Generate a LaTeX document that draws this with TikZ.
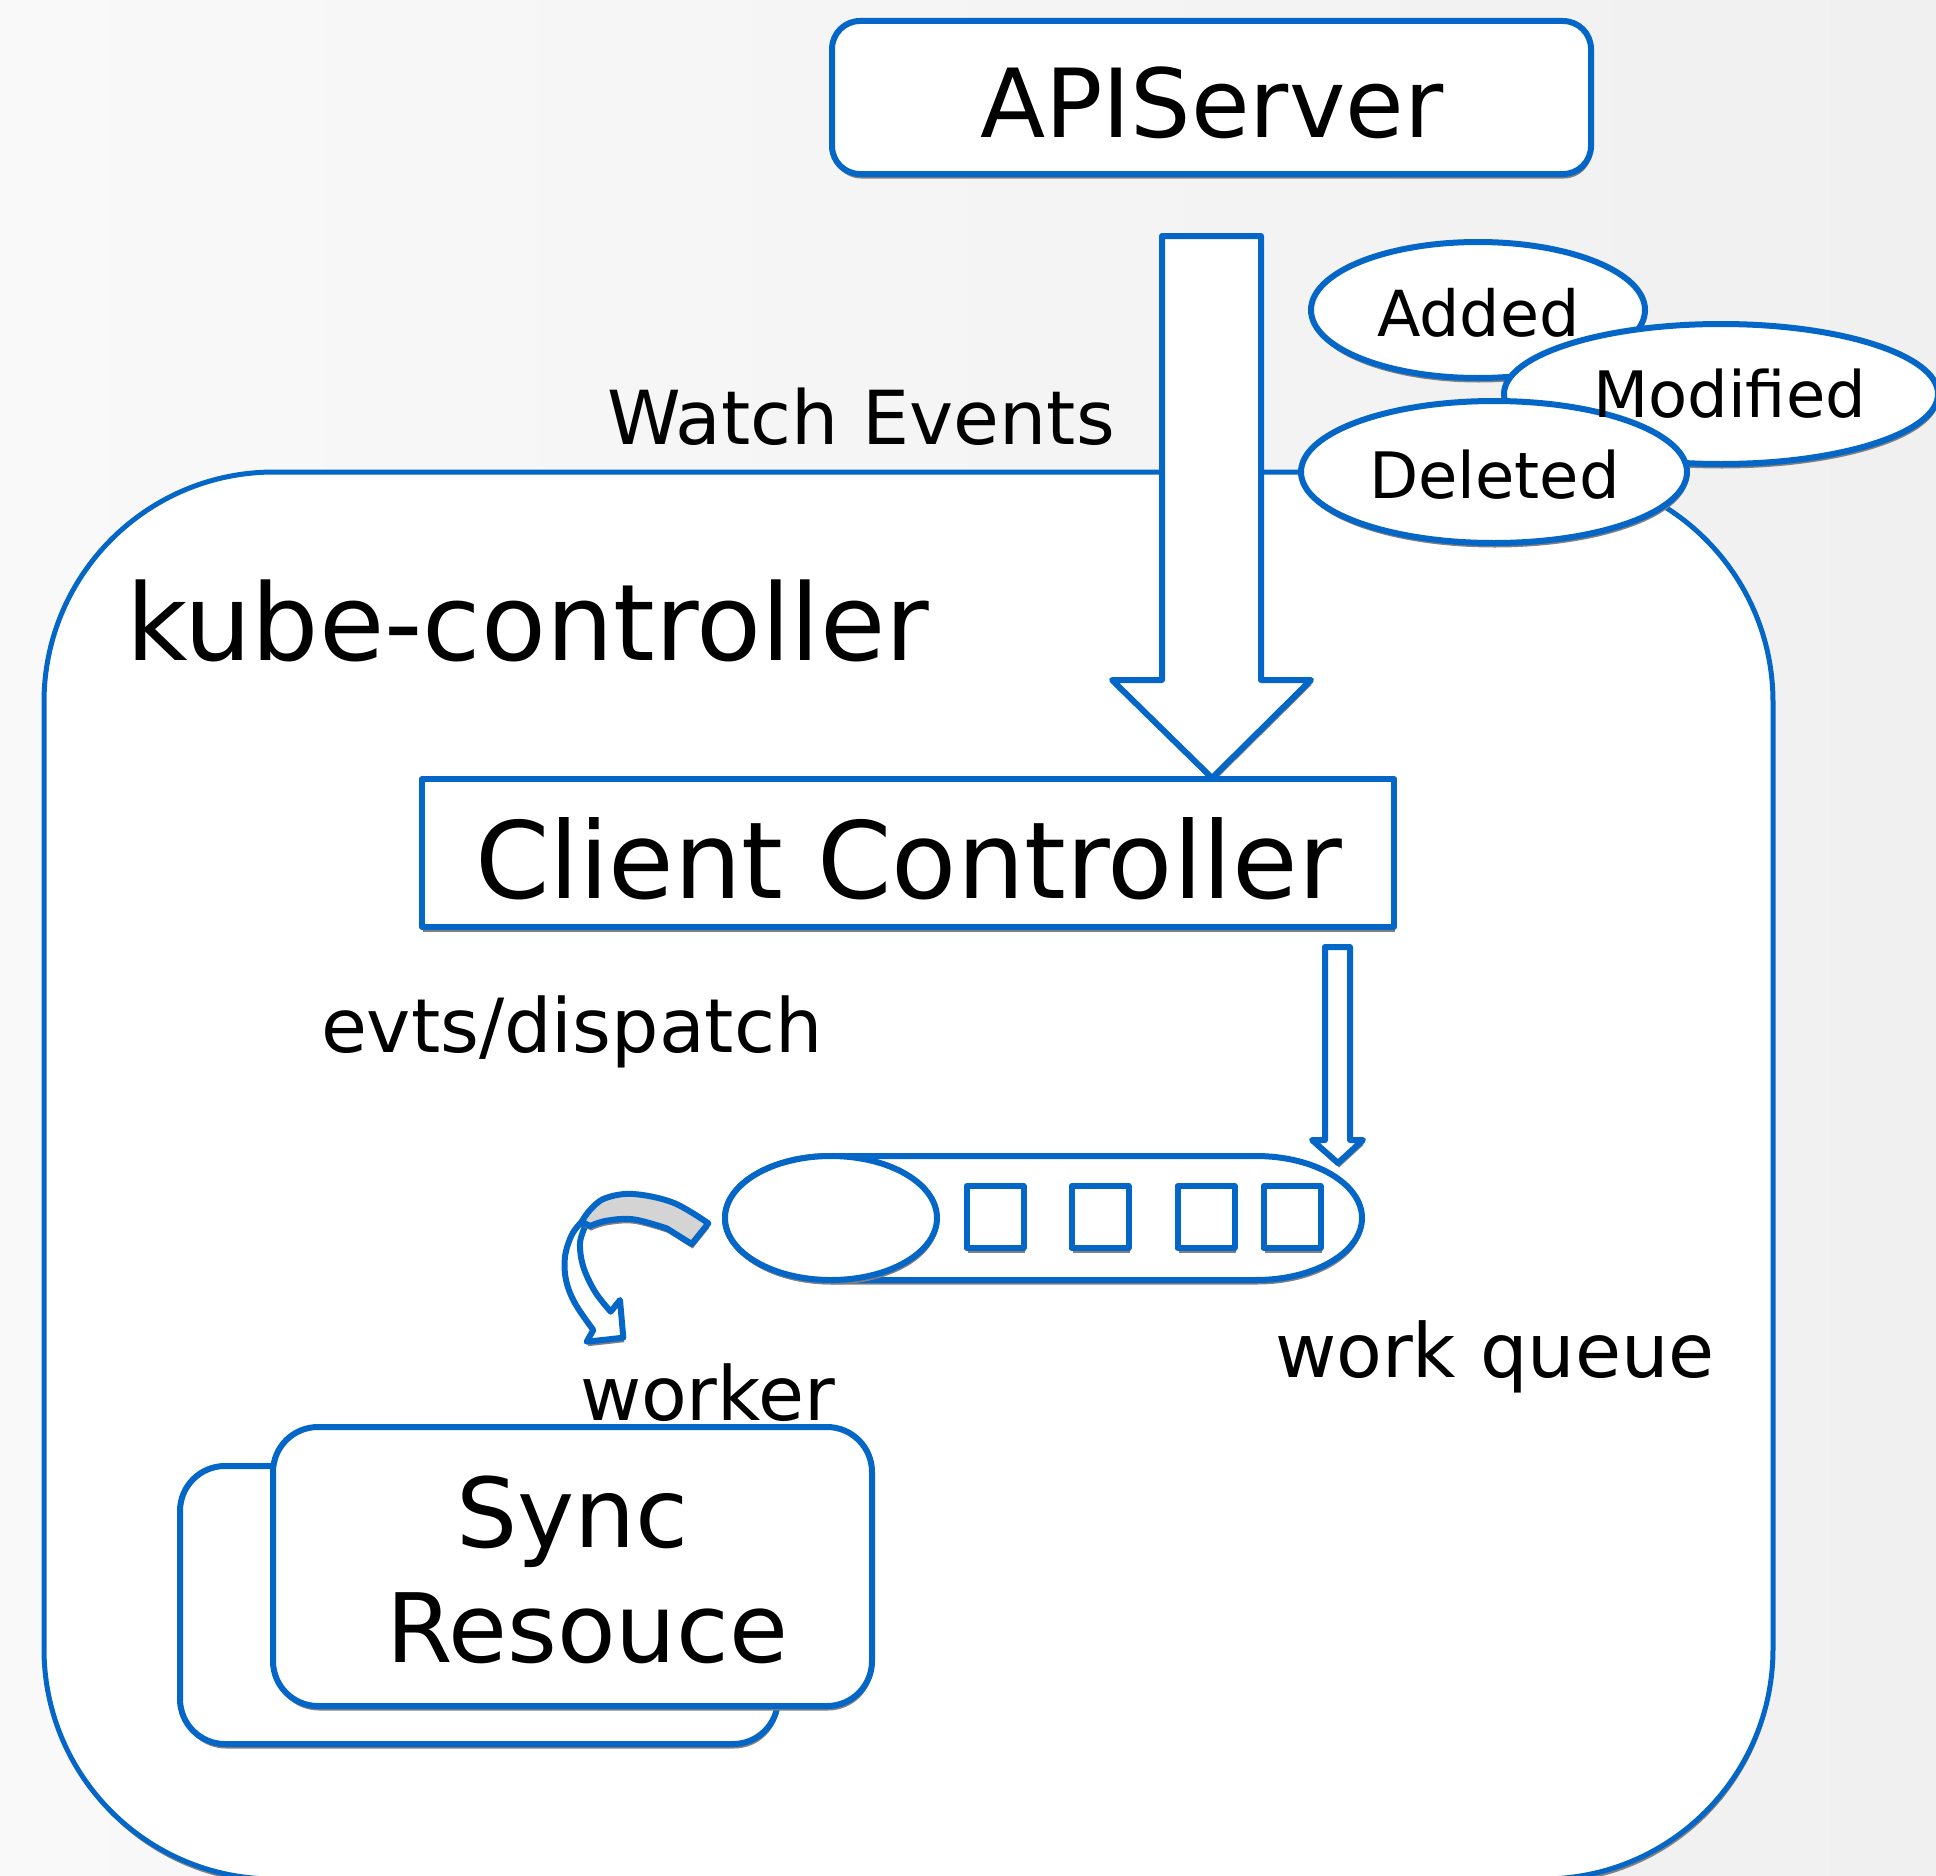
\documentclass[tikz,border=0pt]{standalone}
\usepackage{fontspec}
\setmainfont{DejaVu Sans}
\usetikzlibrary{shadows,shapes.geometric}
\definecolor{kblue}{RGB}{4,102,198}
\definecolor{kshadow}{RGB}{128,128,128}
\definecolor{kband}{RGB}{212,212,212}
\definecolor{bgleft}{RGB}{249,249,249}
\definecolor{bgright}{RGB}{240,240,240}
\newcommand\fsz[1]{\fontsize{#1}{#1}\selectfont}
\tikzset{
  shp/.style={draw=kblue, line width=6pt, fill=white, line join=round,
    drop shadow={shadow xshift=1pt, shadow yshift=-4.5pt, fill=kshadow, opacity=1}},
  boxn/.style={shp, rectangle, inner sep=0pt, outer sep=0pt},
  elln/.style={shp, ellipse, inner sep=0pt, outer sep=0pt},
  lbl/.style={anchor=base west, inner sep=0pt, outer sep=0pt, text=black},
}
\begin{document}
\begin{tikzpicture}[x=1pt,y=-1pt]
\useasboundingbox (0,0) rectangle (1936,1876);
\clip (0,0) rectangle (1936,1876);
\shade[left color=bgleft, right color=bgright] (0,0) rectangle (1936,1876);

% kube-controller frame
\path[shp, line width=5pt, rounded corners=230pt] (44,472) rectangle (1773,1879);

% big block arrow (watch events)
\path[shp] (1162,236) -- (1261,236) -- (1261,680) -- (1311,680) -- (1212,778)
  -- (1112,680) -- (1162,680) -- cycle;

% event ellipses
\node[elln, minimum width=334pt, minimum height=136pt] (added) at (1478,310) {};
\node[elln, minimum width=434pt, minimum height=140pt] (modified) at (1721,394) {};
\node[elln, minimum width=386pt, minimum height=142pt] (deleted) at (1494,472) {};

% APIServer
\node[boxn, rounded corners=28pt, minimum width=759pt, minimum height=153pt] (api) at (1211.5,97.5) {};

% Client Controller
\node[boxn, minimum width=972pt, minimum height=148pt] (cc) at (908,853) {};

% small arrow into queue
\path[shp] (1325,947) -- (1350,947) -- (1350,1140) -- (1363,1140) -- (1338,1163)
  -- (1312,1140) -- (1325,1140) -- cycle;

% work queue
\path[shp] (831,1156) -- (1256,1156)
  arc[start angle=-90, end angle=90, x radius=106, y radius=62]
  -- (831,1280)
  arc[start angle=90, end angle=270, x radius=106, y radius=62] -- cycle;
\node[elln, minimum width=212pt, minimum height=124pt] (qhead) at (831,1218) {};
\node[boxn, minimum width=57pt, minimum height=62pt] (q1) at (995,1217) {};
\node[boxn, minimum width=57pt, minimum height=62pt] (q2) at (1100,1217) {};
\node[boxn, minimum width=57pt, minimum height=62pt] (q3) at (1206,1217) {};
\node[boxn, minimum width=57pt, minimum height=62pt] (q4) at (1292,1217) {};

% curved worker arrow
\path[shp] plot[smooth, tension=0.6] coordinates {(581.7,1221.7) (571.7,1235) (565,1256.7) (566,1280) (575,1303.3) (593.3,1330)}
  -- (586.7,1341.7) -- (623.3,1337.7) -- (620,1300)
  -- plot[smooth, tension=0.6] coordinates {(610.7,1311.7) (595,1291.7) (583.3,1266.7) (580,1243.3) (585,1226.7)} -- cycle;
\path[shp, fill=kband] plot[smooth, tension=0.6] coordinates {(581.7,1221.7) (590,1210) (605,1198.3) (633.3,1194) (673.3,1202.7) (708.3,1223.3)}
  -- (691.7,1244)
  -- plot[smooth, tension=0.6] coordinates {(666.7,1228.3) (633.3,1219.3) (606.7,1220.7) (590,1226)} -- cycle;

% Sync Resource boxes
\node[boxn, rounded corners=45pt, minimum width=598pt, minimum height=278pt] (syncback) at (479,1605) {};
\node[boxn, rounded corners=45pt, minimum width=599pt, minimum height=279pt] (syncfront) at (572.5,1566.5) {};

% texts
\node[lbl, font=\fsz{95.3}] (tapi) at (980,137) {APIServer};
\node[lbl, font=\fsz{74.5}] (twatch) at (607,444) {Watch Events};
\node[lbl, font=\fsz{106.2}] (tkube) at (126,660) {kube-controller};
\node[lbl, font=\fsz{106.6}] (tcc) at (475,898) {Client Controller};
\node[lbl, font=\fsz{74.7}] (tevts) at (321,1052) {evts/dispatch};
\node[lbl, font=\fsz{74.9}] (twq) at (1275,1377) {work queue};
\node[lbl, font=\fsz{74.8}] (tworker) at (580,1420) {worker};
\node[lbl, font=\fsz{63.5}] (tadd) at (1377,336) {Added};
\node[lbl, font=\fsz{64}] (tmod) at (1593,417) {Modified};
\node[lbl, font=\fsz{64}] (tdel) at (1369,498) {Deleted};
\node[lbl, font=\fsz{96.5}] (tsync) at (456,1547) {Sync};
\node[lbl, font=\fsz{95.8}] (tres) at (386,1662) {Resouce};
\end{tikzpicture}
\end{document}
